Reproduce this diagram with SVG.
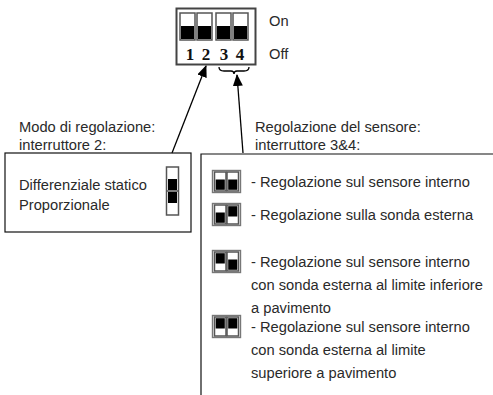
<svg xmlns="http://www.w3.org/2000/svg" width="493" height="395" viewBox="0 0 493 395">
<defs>
<style>
.t{font-family:"Liberation Sans",Arial,sans-serif;font-size:14.7px;fill:#2a2a2a}
.n{font-family:"Liberation Serif","Times New Roman",serif;font-size:17px;font-weight:bold;fill:#111}
.box{fill:none;stroke:#111;stroke-width:1.2}
.sl{fill:#fff;stroke:#555;stroke-width:1.5}
.bk{fill:#000}
.ln{stroke:#000;stroke-width:1.3;fill:none}
.ic{fill:#fff;stroke:#777;stroke-width:1.4}
</style>
<marker id="ah" viewBox="0 0 12 10" refX="11" refY="5" markerWidth="12" markerHeight="10" markerUnits="userSpaceOnUse" orient="auto">
<path d="M0,0 L12,5 L0,10 z" fill="#000"/>
</marker>
<g id="slotOff"><rect class="sl" x="0" y="0" width="11.5" height="19"/><rect class="bk" x="1.2" y="7.5" width="9.1" height="10.3"/></g>
<g id="slotOn"><rect class="sl" x="0" y="0" width="11.5" height="19"/><rect class="bk" x="1.2" y="1.2" width="9.1" height="10.3"/></g>
</defs>

<g id="dip">
<rect x="176.5" y="8.5" width="79" height="56" fill="#fff" stroke="#444" stroke-width="2"/>
<rect x="180" y="13" width="15" height="27" class="sl"/><rect class="bk" x="181" y="26" width="13" height="13"/>
<rect x="197" y="13" width="15" height="27" class="sl"/><rect class="bk" x="198" y="26" width="13" height="13"/>
<rect x="216" y="13" width="15" height="27" class="sl"/><rect class="bk" x="217" y="26" width="13" height="13"/>
<rect x="233" y="13" width="15" height="27" class="sl"/><rect class="bk" x="234" y="26" width="13" height="13"/>
<text class="n" x="190" y="60" text-anchor="middle">1</text>
<text class="n" x="206" y="60" text-anchor="middle">2</text>
<text class="n" x="224" y="60" text-anchor="middle">3</text>
<text class="n" x="240" y="60" text-anchor="middle">4</text>
<text class="t" x="269" y="26">On</text>
<text class="t" x="269" y="59">Off</text>
</g>

<g id="connectors">
<path class="ln" d="M219,67 Q219,71 224,71 L231,71 Q234,71 234,74 Q234,71 237,71 L244,71 Q249,71 249,67"/>
<line class="ln" x1="172" y1="153" x2="206" y2="66" marker-end="url(#ah)"/>
<line class="ln" x1="243" y1="153" x2="237" y2="75" marker-end="url(#ah)"/>
</g>

<g id="mode">
<text class="t" x="19" y="132">Modo di regolazione:</text>
<text class="t" x="19" y="150">interruttore 2:</text>
<rect class="box" x="5" y="153" width="186" height="79"/>
<text class="t" x="19" y="190">Differenziale statico</text>
<text class="t" x="19" y="210">Proporzionale</text>
<rect x="166.5" y="167" width="12" height="48" fill="#fff" stroke="#555" stroke-width="1.5"/>
<line x1="166.5" y1="191" x2="178.5" y2="191" stroke="#555" stroke-width="1.5"/>
<rect class="bk" x="168" y="179" width="9" height="11"/>
<rect class="bk" x="168" y="192" width="9" height="11"/>
</g>

<g id="sensor">
<text class="t" x="255" y="132">Regolazione del sensore:</text>
<text class="t" x="255" y="150">interruttore 3&amp;4:</text>
<path class="box" d="M493,154 L201,154 L201,395"/>
</g>

<g id="opt1">
<rect class="ic" x="212.5" y="170.5" width="28" height="22"/>
<use href="#slotOff" x="214.5" y="172"/><use href="#slotOff" x="227" y="172"/>
<text class="t" x="251" y="187">- Regolazione sul sensore interno</text>
</g>
<g id="opt2">
<rect class="ic" x="212.5" y="203.5" width="28" height="22"/>
<use href="#slotOff" x="214.5" y="205"/><use href="#slotOn" x="227" y="205"/>
<text class="t" x="251" y="220">- Regolazione sulla sonda esterna</text>
</g>
<g id="opt3">
<rect class="ic" x="212.5" y="250.5" width="28" height="22"/>
<use href="#slotOn" x="214.5" y="252"/><use href="#slotOff" x="227" y="252"/>
<text class="t" x="251" y="267">- Regolazione sul sensore interno</text>
<text class="t" x="251" y="290">con sonda esterna al limite inferiore</text>
<text class="t" x="251" y="313">a pavimento</text>
</g>
<g id="opt4">
<rect class="ic" x="212.5" y="315.5" width="28" height="22"/>
<use href="#slotOn" x="214.5" y="317"/><use href="#slotOn" x="227" y="317"/>
<text class="t" x="251" y="332">- Regolazione sul sensore interno</text>
<text class="t" x="251" y="355">con sonda esterna al limite</text>
<text class="t" x="251" y="378">superiore a pavimento</text>
</g>
</svg>
